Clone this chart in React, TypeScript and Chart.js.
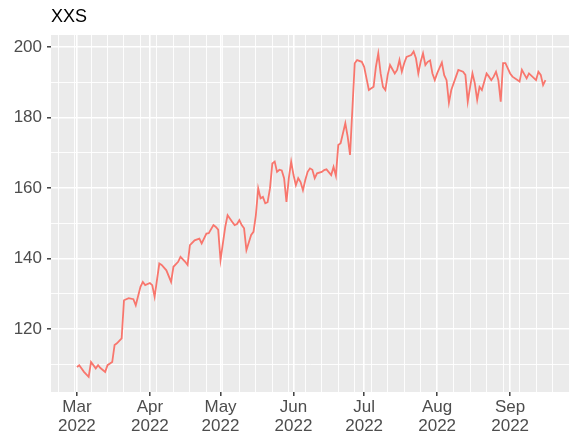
import React, { useEffect, useRef } from 'react';
import { Chart, registerables } from 'chart.js';

Chart.register(...registerables);

// ---- data ----
const chartTitle = 'XXS';
// day offset from 2022-03-01
const days = [
  0, 1, 3, 5, 6, 8, 9, 10, 12, 13, 15, 16, 17, 19, 20, 22, 24, 25, 27, 28,
  29, 31, 32, 33, 35, 36, 38, 40, 41, 43, 44, 46, 47, 48, 50, 52, 53, 55, 56, 58,
  59, 60, 61, 63, 64, 66, 67, 68, 69, 70, 71, 72, 74, 75, 76, 77, 78, 79, 80, 81,
  82, 83, 84, 85, 86, 87, 88, 89, 90, 91, 92, 93, 94, 95, 96, 97, 98, 99, 100, 101,
  102, 104, 105, 106, 108, 109, 110, 111, 112, 114, 115, 116, 118, 119, 121, 122, 123, 124, 126, 127,
  128, 129, 130, 131, 132, 133, 135, 136, 137, 138, 139, 140, 142, 143, 144, 145, 146, 147, 148, 149,
  150, 151, 152, 153, 155, 156, 157, 158, 159, 161, 162, 164, 165, 166, 167, 168, 169, 170, 171, 172,
  174, 175, 176, 177, 178, 179, 180, 181, 182, 184, 185, 188, 189, 190, 191, 192, 195, 196, 197, 198,
  199,
];
const values = [
  109.3, 109.8, 107.9, 106.5, 110.7, 108.9, 109.8, 109.0, 107.9, 109.8, 110.7, 115.5, 116.0, 117.4, 128.2, 128.8, 128.5, 126.8, 132.0, 133.4,
  132.5, 133.1, 132.5, 129.2, 138.6, 138.2, 136.7, 133.4, 137.7, 139.1, 140.5, 139.1, 138.2, 143.8, 145.2, 145.7, 144.3, 147.1, 147.2, 149.5,
  149.0, 148.2, 139.6, 149.0, 152.3, 150.4, 149.5, 149.8, 150.9, 149.5, 148.6, 142.4, 146.7, 147.6, 152.3, 159.9, 157.1, 157.5, 155.7, 156.0,
  159.9, 167.0, 167.5, 164.6, 165.2, 165.0, 162.8, 156.1, 162.8, 167.5, 163.7, 160.8, 162.8, 161.7, 159.4, 162.3, 164.6, 165.6, 165.2, 162.8,
  164.2, 164.6, 165.1, 165.3, 163.7, 166.0, 163.5, 172.2, 172.7, 178.4, 174.6, 169.4, 195.4, 196.3, 195.8, 194.4, 191.1, 187.8, 188.7, 194.4,
  198.2, 192.5, 188.7, 187.8, 192.1, 194.9, 192.5, 193.5, 196.3, 193.0, 195.4, 197.2, 197.7, 198.7, 196.8, 192.5, 195.8, 198.2, 194.9, 195.8,
  196.2, 192.5, 190.6, 192.5, 195.6, 192.0, 190.6, 184.2, 187.8, 191.6, 193.5, 193.0, 192.1, 184.5, 188.7, 192.5, 189.7, 185.0, 188.7, 187.8,
  192.5, 191.6, 190.6, 191.6, 193.0, 190.6, 184.5, 195.4, 195.4, 192.5, 191.6, 190.2, 193.5, 192.3, 191.1, 192.5, 190.6, 193.0, 192.1, 189.2,
  190.6,
];
const monthDays = [0, 31, 61, 92, 122, 153, 184];
const monthLabels = [
  ['Mar', '2022'], ['Apr', '2022'], ['May', '2022'], ['Jun', '2022'],
  ['Jul', '2022'], ['Aug', '2022'], ['Sep', '2022'],
];
const yMajor = [120, 140, 160, 180, 200];
const yMinor = [110, 130, 150, 170, 190];
const firstMonday = -8; // 2022-02-21

const X_MIN = -11;
const X_MAX = 209.3;
const Y_MIN = 102.2;
const Y_MAX = 203.4;

const FONT = '"Liberation Sans", Arial, Helvetica, sans-serif';

function weeklyBreaks(): number[] {
  const out: number[] = [];
  for (let d = firstMonday; d <= X_MAX; d += 7) out.push(d);
  return out;
}

const panelPlugin = {
  id: 'panelBg',
  beforeDraw(chart: any) {
    const { ctx, chartArea: a } = chart;
    ctx.save();
    ctx.fillStyle = '#FFFFFF';
    ctx.fillRect(0, 0, chart.width, chart.height);
    ctx.fillStyle = '#EBEBEB';
    ctx.fillRect(a.left, a.top, a.right - a.left, a.bottom - a.top);
    ctx.fillStyle = '#000000';
    ctx.font = `18px ${FONT}`;
    ctx.textBaseline = 'alphabetic';
    ctx.textAlign = 'left';
    ctx.fillText(chartTitle, 51, 21.5);
    ctx.restore();
  },
};

export default function App() {
  const ref = useRef<HTMLCanvasElement | null>(null);

  useEffect(() => {
    if (!ref.current) return;
    const weekly = weeklyBreaks();
    const xTicks = Array.from(new Set([...monthDays, ...weekly])).sort((a, b) => a - b);
    const yTicks = [...yMinor, ...yMajor].sort((a, b) => a - b);
    const isMonth = (v: any) => monthDays.includes(v);
    const isYMajor = (v: any) => yMajor.includes(v);

    const chart = new Chart(ref.current, {
      type: 'line',
      data: {
        datasets: [
          {
            data: days.map((d, i) => ({ x: d, y: values[i] })),
            borderColor: '#F8766D',
            borderWidth: 1.8,
            pointRadius: 0,
            tension: 0,
            fill: false,
          },
        ],
      },
      options: {
        animation: false,
        responsive: false,
        maintainAspectRatio: false,
        layout: { padding: { top: 35, left: 0, right: 0, bottom: 0 } },
        plugins: { legend: { display: false }, tooltip: { enabled: false }, title: { display: false } },
        scales: {
          x: {
            type: 'linear',
            min: X_MIN,
            max: X_MAX,
            afterBuildTicks: (scale: any) => {
              scale.ticks = xTicks.map((v) => ({ value: v }));
            },
            afterFit: (scale: any) => {
              scale.height = 47;
            },
            border: { display: false },
            grid: {
              color: '#FFFFFF',
              lineWidth: (ctx: any) => (isMonth(ctx.tick?.value) ? 1.6 : 0.9),
              drawTicks: true,
              tickLength: 4,
              tickWidth: 1.4,
              tickColor: (ctx: any) => (isMonth(ctx.tick?.value) ? '#333333' : 'rgba(0,0,0,0)'),
            },
            ticks: {
              autoSkip: false,
              maxRotation: 0,
              minRotation: 0,
              padding: 2,
              color: '#4D4D4D',
              font: { family: FONT, size: 17, lineHeight: 1.1 },
              callback: (v: any) => {
                const i = monthDays.indexOf(v);
                return i >= 0 ? monthLabels[i] : '';
              },
            },
          },
          y: {
            type: 'linear',
            min: Y_MIN,
            max: Y_MAX,
            afterBuildTicks: (scale: any) => {
              scale.ticks = yTicks.map((v) => ({ value: v }));
            },
            afterFit: (scale: any) => {
              scale.width = 51;
            },
            border: { display: false },
            grid: {
              color: '#FFFFFF',
              lineWidth: (ctx: any) => (isYMajor(ctx.tick?.value) ? 1.6 : 0.9),
              drawTicks: true,
              tickLength: 4,
              tickWidth: 1.4,
              tickColor: (ctx: any) => (isYMajor(ctx.tick?.value) ? '#333333' : 'rgba(0,0,0,0)'),
            },
            ticks: {
              autoSkip: false,
              padding: 5,
              color: '#4D4D4D',
              font: { family: FONT, size: 17 },
              callback: (v: any) => (isYMajor(v) ? String(v) : ''),
            },
          },
        },
      },
      plugins: [panelPlugin],
    });
    return () => chart.destroy();
  }, []);

  return (
    <div style={{ position: 'absolute', left: 0, top: 0, width: 571, height: 439 }}>
      <canvas ref={ref} width={571} height={439} style={{ display: 'block' }} />
    </div>
  );
}
